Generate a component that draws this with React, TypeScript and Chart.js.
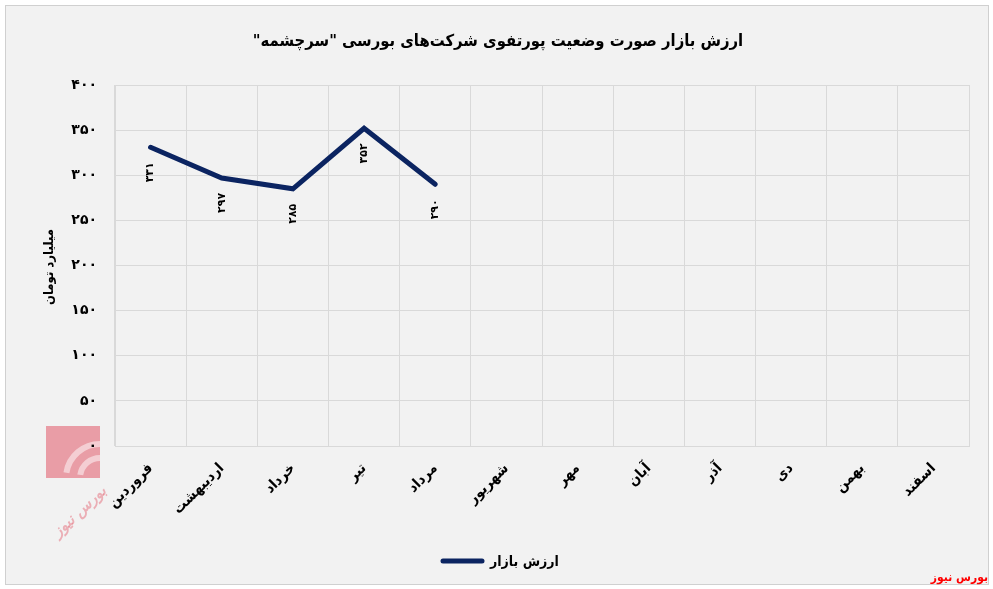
import React, { useEffect, useRef } from "react";
import { Chart, registerables } from "chart.js";

Chart.register(...registerables);

const months = ["فروردین", "اردیبهشت", "خرداد", "تیر", "مرداد", "شهریور", "مهر", "آبان", "آذر", "دی", "بهمن", "اسفند"];
const marketValue: (number | null)[] = [331, 297, 285, 352, 290, null, null, null, null, null, null, null];
const valueLabels = ["۳۳۱", "۲۹۷", "۲۸۵", "۳۵۲", "۲۹۰"];
const titleText = 'ارزش بازار صورت وضعیت پورتفوی شرکت‌های بورسی "سرچشمه"';
const yAxisTitle = "میلیارد تومان";
const seriesName = "ارزش بازار";
const sourceText = "بورس نیوز";

const FONT = "'DejaVu Sans', sans-serif";
const FONT_C = "'DejaVu Sans Condensed', 'DejaVu Sans', sans-serif";
const NAVY = "#0b2461";

const toFa = (v: number | string) => String(v).replace(/[0-9]/g, (d) => "۰۱۲۳۴۵۶۷۸۹"[Number(d)]);

const decorPlugin = {
  id: "decor",
  beforeDraw(chart: any) {
    const ctx = chart.ctx;
    ctx.save();
    ctx.fillStyle = "#ffffff";
    ctx.fillRect(0, 0, chart.width, chart.height);
    ctx.fillStyle = "#f2f2f2";
    ctx.fillRect(5, 5, 983, 579);
    ctx.strokeStyle = "#d0d0d0";
    ctx.lineWidth = 1;
    ctx.strokeRect(5.5, 5.5, 983, 579);

    // watermark logo
    ctx.globalAlpha = 0.5;
    ctx.fillStyle = "#e0485a";
    ctx.fillRect(46, 426, 54, 52);
    ctx.strokeStyle = "#ffffff";
    ctx.lineWidth = 6;
    ctx.beginPath();
    ctx.arc(100, 478, 34, Math.PI * 1.05, Math.PI * 1.5);
    ctx.stroke();
    ctx.beginPath();
    ctx.arc(100, 478, 20, Math.PI * 1.05, Math.PI * 1.5);
    ctx.stroke();
    ctx.globalAlpha = 0.4;
    ctx.fillStyle = "#e0485a";
    ctx.font = `italic bold 15px ${FONT}`;
    ctx.textAlign = "center";
    ctx.textBaseline = "middle";
    ctx.direction = "rtl";
    ctx.save();
    ctx.translate(80, 512);
    ctx.rotate(-0.75);
    ctx.fillText(sourceText, 0, 0);
    ctx.restore();
    ctx.restore();
  },
  afterDraw(chart: any) {
    const ctx = chart.ctx;
    ctx.save();
    ctx.direction = "rtl";
    ctx.textAlign = "center";
    ctx.textBaseline = "middle";
    ctx.fillStyle = "#000";
    ctx.font = `bold 16.5px ${FONT_C}`;
    ctx.fillText(titleText, 498, 42);

    ctx.save();
    ctx.translate(50, 267);
    ctx.rotate(-Math.PI / 2);
    ctx.font = `bold 13px ${FONT_C}`;
    ctx.fillText(yAxisTitle, 0, 0);
    ctx.restore();

    // data labels
    const meta = chart.getDatasetMeta(0);
    ctx.direction = "ltr";
    ctx.font = `bold 11px ${FONT}`;
    meta.data.forEach((pt: any, i: number) => {
      if (marketValue[i] == null) return;
      ctx.save();
      ctx.translate(pt.x, pt.y + 25);
      ctx.rotate(-Math.PI / 2);
      ctx.fillText(valueLabels[i], 0, 0);
      ctx.restore();
    });

    // legend
    ctx.direction = "rtl";
    ctx.strokeStyle = NAVY;
    ctx.lineWidth = 5;
    ctx.lineCap = "round";
    ctx.beginPath();
    ctx.moveTo(443, 561);
    ctx.lineTo(482, 561);
    ctx.stroke();
    ctx.textAlign = "left";
    ctx.font = `bold 14px ${FONT_C}`;
    ctx.fillText(seriesName, 490, 562);

    ctx.textAlign = "right";
    ctx.fillStyle = "#ff0000";
    ctx.font = `bold 12px ${FONT_C}`;
    ctx.fillText(sourceText, 988, 578);
    ctx.restore();
  },
};

export default function App() {
  const ref = useRef<HTMLCanvasElement>(null);
  useEffect(() => {
    if (!ref.current) return;
    const chart = new Chart(ref.current, {
      type: "line",
      data: {
        labels: months,
        datasets: [
          {
            label: seriesName,
            data: marketValue,
            borderColor: NAVY,
            backgroundColor: NAVY,
            borderWidth: 5,
            pointRadius: 0,
            tension: 0,
            borderCapStyle: "round",
            borderJoinStyle: "miter",
            spanGaps: false,
          },
        ],
      },
      options: {
        responsive: false,
        animation: false,
        devicePixelRatio: 1,
        layout: { padding: { left: 0, right: 24, top: 85, bottom: 63 } },
        plugins: { legend: { display: false }, title: { display: false }, tooltip: { enabled: false } },
        scales: {
          x: {
            offset: true,
            grid: { offset: true, color: "#d9d9d9", drawTicks: false },
            border: { color: "#d9d9d9" },
            ticks: {
              color: "#000",
              font: { family: FONT_C, weight: "bold", size: 14.5 },
              minRotation: 45,
              maxRotation: 45,
              padding: 14,
            },
            afterFit: (s: any) => {
              s.height = 80;
            },
          },
          y: {
            min: 0,
            max: 400,
            grid: { color: "#d9d9d9", drawTicks: false },
            border: { color: "#d9d9d9" },
            ticks: {
              stepSize: 50,
              color: "#000",
              font: { family: FONT, weight: "bold", size: 14 },
              padding: 18,
              callback: (v: any) => toFa(v),
            },
            afterFit: (s: any) => {
              s.width = 115;
            },
          },
        },
      },
      plugins: [decorPlugin],
    });
    return () => chart.destroy();
  }, []);
  return (
    <div style={{ position: "absolute", left: 0, top: 0, width: 993, height: 589 }}>
      <canvas ref={ref} width={993} height={589} />
    </div>
  );
}
